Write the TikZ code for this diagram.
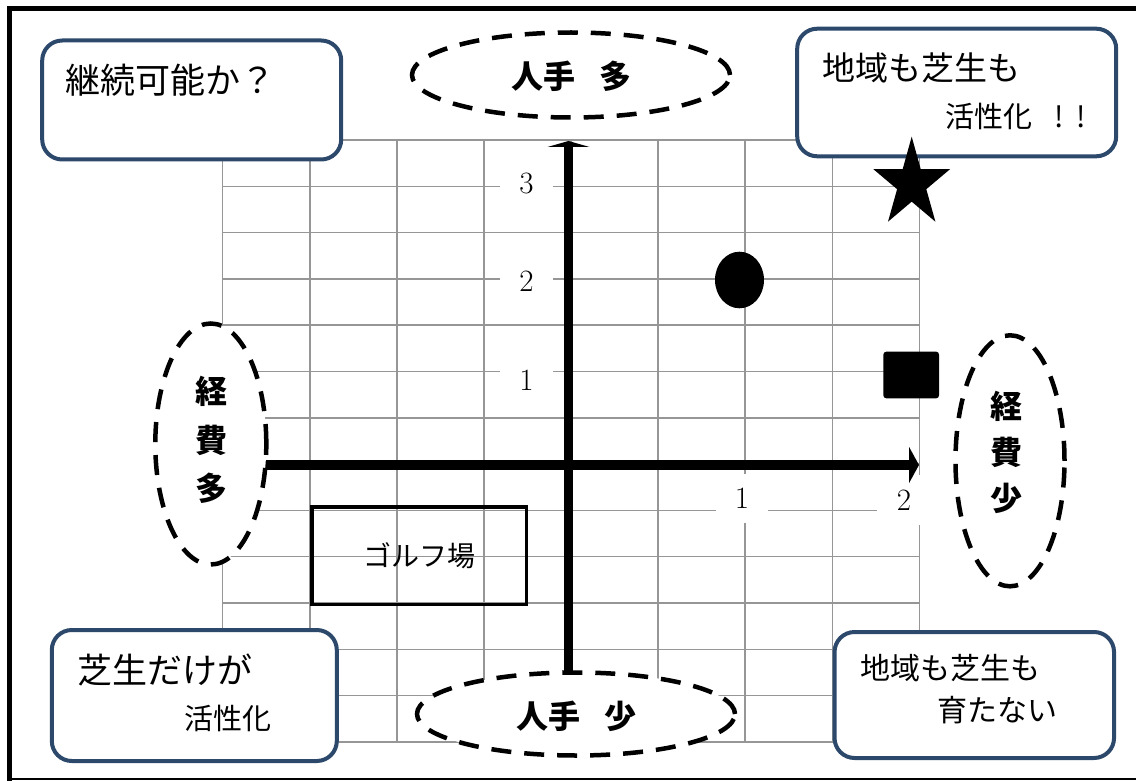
\documentclass[tikz,border=0pt]{standalone}
\usepackage{fontspec}
\newfontfamily\jp{Noto Sans CJK JP}
\usetikzlibrary{shapes.geometric,arrows.meta}
\definecolor{navy}{RGB}{44,72,107}
\definecolor{gridgray}{RGB}{150,150,150}
\tikzset{
  gridline/.style={draw=gridgray, line width=1.5pt},
  axisline/.style={line width=9.5pt},
  callout/.style={draw=navy, line width=4pt, rounded corners=20pt, fill=white, inner sep=0pt},
  oval/.style={ellipse, draw, line width=4.5pt, dash pattern=on 20pt off 13pt, fill=white, inner sep=0pt},
  jtext/.style={font=\jp\fontsize{#1}{#1}\selectfont, inner sep=0pt, anchor=west},
  btext/.style={font=\jp\bfseries\fontsize{32}{#1}\selectfont, inner sep=0pt, align=center},
  numlabel/.style={fill=white, inner sep=0pt, font=\fontsize{31}{31}\selectfont},
}
\begin{document}
\begin{tikzpicture}[x=1pt,y=-1pt]
\useasboundingbox (0,0) rectangle (1136,781);
% outer frame
\draw[line width=4.8pt] (9.2,781) -- (9.2,8.7) -- (1136,8.7);
\draw[line width=2.6pt] (9.2,779) -- (1136,779);
% grid
\foreach \i in {0,...,8} \draw[gridline] ({222.7+87.08*\i},140) -- ({222.7+87.08*\i},741.9);
\foreach \j in {0,...,13} \draw[gridline] (222.7,{140+46.3*\j}) -- (919.3,{140+46.3*\j});
% tick labels
\node[numlabel, minimum width=53pt, minimum height=44pt] (y3) at (526.6,183.3) {3};
\node[numlabel, minimum width=53pt, minimum height=44pt] (y2) at (526.6,281.7) {2};
\node[numlabel, minimum width=53pt, minimum height=44pt] (y1) at (526.6,380) {1};
\node[numlabel, minimum width=52pt, minimum height=49pt] (x1) at (742,498) {1};
\node[numlabel, minimum width=54pt, minimum height=50pt] (x2) at (904,500) {2};
% axes
\coordinate (ybase) at (568.5,680);
\coordinate (ytip) at (568.5,141);
\coordinate (xbase) at (262,465);
\coordinate (xtip) at (919,465);
\draw[axisline, -{Triangle[width=42pt,length=6pt]}] (ybase) -- (ytip);
\draw[axisline, -{Triangle[width=36pt,length=10pt]}] (xbase) -- (xtip);
% golf course
\node[draw, line width=3.5pt, minimum width=214.5pt, minimum height=97.5pt, inner sep=0pt,
      font=\jp\fontsize{28}{28}\selectfont] (golf) at (419,555.5) {ゴルフ場};
% markers
\node[ellipse, fill, minimum width=49pt, minimum height=56.6pt, inner sep=0pt] (dot) at (739.5,280) {};
\node[fill, rounded corners=3pt, minimum width=55.7pt, minimum height=46.7pt, inner sep=0pt] (sq) at (911.2,375) {};
% ovals
\node[oval, minimum width=318pt, minimum height=85pt] (top) at (571,75) {};
\node[oval, minimum width=318pt, minimum height=83pt] (bot) at (576,714) {};
\node[oval, minimum width=111pt, minimum height=241pt] (lft) at (210.8,444) {};
\node[oval, minimum width=109pt, minimum height=251pt] (rgt) at (1010,460.8) {};
\node[btext=32] (toptext) at (571,76.7) {人手\hspace{24pt}多};
\node[btext=32] (bottext) at (576,716.7) {人手\hspace{24pt}少};
\node[btext=48.3] (lfttext) at (211.7,440) {経\\費\\多};
\node[btext=45.8] (rgttext) at (1006.7,452.5) {経\\費\\少};
% callout boxes
\node[callout, minimum width=299pt, minimum height=119pt] (boxTL) at (191.7,100) {};
\node[callout, minimum width=319pt, minimum height=127.6pt] (boxTR) at (956.7,92.5) {};
\node[callout, minimum width=285pt, minimum height=131pt] (boxBL) at (194.3,695.5) {};
\node[callout, minimum width=279.5pt, minimum height=126pt] (boxBR) at (974.3,695) {};
\node[jtext=35] (tTL) at (65,80) {継続可能か？};
\node[jtext=33] (tTR1) at (822,68) {地域も芝生も};
\node[jtext=29] (tTR2) at (945.5,116.7) {活性化\hspace{22pt}!\hspace{12pt}!};
\node[jtext=35] (tBL1) at (77,670) {芝生だけが};
\node[jtext=29] (tBL2) at (184.5,718) {活性化};
\node[jtext=30] (tBR1) at (860.5,668) {地域も芝生も};
\node[jtext=30] (tBR2) at (937.5,710) {育たない};
% star
\fill[shift={(911.7,183.7)}] (0,-47) -- (-9.05,-14.5) -- (-38.3,-14.5) -- (-14.6,5.5) -- (-23.7,38)
  -- (0,17.95) -- (23.7,38) -- (14.6,5.5) -- (38.3,-14.5) -- (9.05,-14.5) -- cycle;
\end{tikzpicture}
\end{document}
